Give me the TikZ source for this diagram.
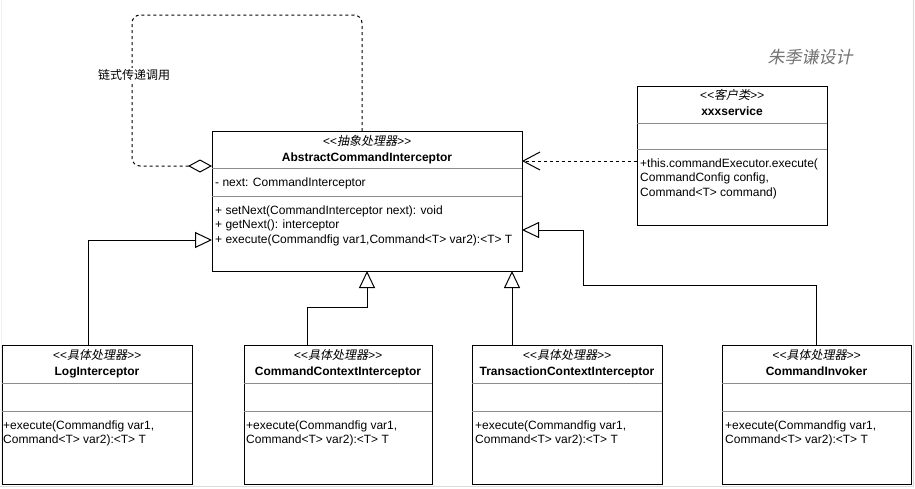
\documentclass[tikz,border=0pt]{standalone}
\usepackage{fontspec}
\setmainfont{Liberation Sans}
\newfontfamily\cjk{Noto Sans CJK SC}
\newfontfamily\cjkit[FakeSlant=0.2]{Noto Sans CJK SC}
\usetikzlibrary{arrows.meta}
\newcommand\stereo[1]{\textit{<{}<}{\cjkit #1}\textit{>{}>}}
\begin{document}
\begin{tikzpicture}[x=1pt,y=-1pt,
  cls/.style={draw, line width=1pt, anchor=north west, inner sep=0pt, outer sep=0pt, minimum height=139pt},
  div/.style={draw=black!45, line width=0.8pt},
  txt/.style={anchor=base west, inner sep=0pt, font=\fontsize{12}{14.4}\selectfont},
  ster/.style={anchor=base, inner sep=0pt, font=\fontsize{12}{14.4}\selectfont},
  cname/.style={anchor=base, inner sep=0pt, font=\fontsize{12}{14.4}\selectfont\bfseries},
  inh/.style={-{Triangle[open,length=17pt,width=16pt]}, line width=1pt},
  dep/.style={dash pattern=on 3pt off 3pt, -{Straight Barb[length=17pt,width=18pt]}, line width=1pt},
  agg/.style={dash pattern=on 3pt off 3pt, rounded corners=8pt, -{Diamond[open,length=24pt,width=13pt]}, line width=1pt},
]
\useasboundingbox (0,0) rectangle (915,488);
% page frame
\draw[black!6, line width=1.2pt] (1.5,0) -- (1.5,486.5);
\draw[black!14, line width=1.5pt] (913.5,0) -- (913.5,486.5) -- (0,486.5);

% ---------- abstract class ----------
\node[cls, minimum width=310pt, minimum height=140pt] (abs) at (212,131) {};
\draw[div] (abs.west |- 0,168) -- (abs.east |- 0,168);
\draw[div] (abs.west |- 0,196) -- (abs.east |- 0,196);
\node[ster] (absS) at (367,145) {\stereo{抽象处理器}};
\node[cname] (absN) at (367,161) {AbstractCommandInterceptor};
\node[txt] (absA) at (215,186.5) {- next: CommandInterceptor};
\node[txt] (absM1) at (215,214.5) {+ setNext(CommandInterceptor next): void};
\node[txt] (absM2) at (215,228.9) {+ getNext(): interceptor};
\node[txt] (absM3) at (215,243.3) {+ execute(Commandfig var1,Command<T> var2):<T> T};

% ---------- client ----------
\node[cls, minimum width=190pt] (svc) at (637,86) {};
\draw[div] (svc.west |- 0,123) -- (svc.east |- 0,123);
\draw[div] (svc.west |- 0,149) -- (svc.east |- 0,149);
\node[ster] (svcS) at (732,99) {\stereo{客户类}};
\node[cname] (svcN) at (732,115) {xxxservice};
\node[txt] (svcM1) at (640,167.5) {+this.commandExecutor.execute(};
\node[txt] (svcM2) at (640,181.9) {CommandConfig config,};
\node[txt] (svcM3) at (640,196.3) {Command<T> command)};

% ---------- concrete handlers ----------
\node[cls, minimum width=190pt] (log) at (2,345) {};
\node[cls, minimum width=188pt] (ctx) at (244,345) {};
\node[cls, minimum width=190pt] (tx) at (472,345) {};
\node[cls, minimum width=189pt] (inv) at (722,345) {};
\foreach \b in {log,ctx,tx,inv}{
  \draw[div] (\b.west |- 0,383) -- (\b.east |- 0,383);
  \draw[div] (\b.west |- 0,411) -- (\b.east |- 0,411);
}
\node[ster] (logS) at (log.north |- 0,359) {\stereo{具体处理器}};
\node[cname] (logN) at (log.north |- 0,375) {LogInterceptor};
\node[txt] (logM1) at (3,429.5) {+execute(Commandfig var1,};
\node[txt] (logM2) at (3,443.9) {Command<T> var2):<T> T};

\node[ster] (ctxS) at (ctx.north |- 0,359) {\stereo{具体处理器}};
\node[cname] (ctxN) at (ctx.north |- 0,375) {CommandContextInterceptor};
\node[txt] (ctxM1) at (246,429.5) {+execute(Commandfig var1,};
\node[txt] (ctxM2) at (246,443.9) {Command<T> var2):<T> T};

\node[ster] (txS) at (tx.north |- 0,359) {\stereo{具体处理器}};
\node[cname] (txN) at (tx.north |- 0,375) {TransactionContextInterceptor};
\node[txt] (txM1) at (475,429.5) {+execute(Commandfig var1,};
\node[txt] (txM2) at (475,443.9) {Command<T> var2):<T> T};

\node[ster] (invS) at (inv.north |- 0,359) {\stereo{具体处理器}};
\node[cname] (invN) at (inv.north |- 0,375) {CommandInvoker};
\node[txt] (invM1) at (725,429.5) {+execute(Commandfig var1,};
\node[txt] (invM2) at (725,443.9) {Command<T> var2):<T> T};

% ---------- connectors ----------
\draw[inh] (log.north -| 88,0) |- (abs.west |- 0,240);
\draw[inh] (ctx.north -| 307,0) -- ++(0,-38) -| (abs.south -| 367,0);
\draw[inh] (tx.north -| 512,0) -- (abs.south -| 512,0);
\draw[inh] (inv.north) |- (583,285) |- (abs.east |- 0,230);
\draw[dep] (svc.west |- 0,161) -- (abs.east |- 0,161);
\draw[agg] (abs.north -| 362,0) |- (132,15) |- (abs.west |- 0,166);
\node[inner sep=1pt, fill=white, font=\fontsize{12}{14.4}\cjk] (lab) at (134,75) {链式传递调用};

% ---------- signature ----------
\node[inner sep=0pt, text=black!55, font=\fontsize{17}{20}\cjkit] (sig) at (810,57) {朱季谦设计};
\end{tikzpicture}
\end{document}
